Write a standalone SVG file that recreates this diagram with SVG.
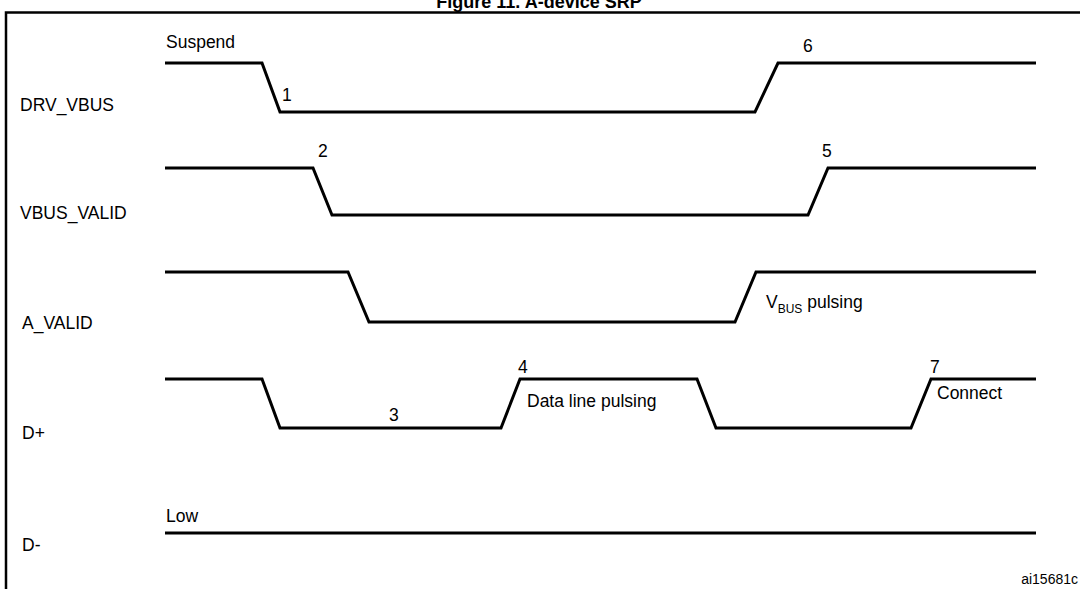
<svg xmlns="http://www.w3.org/2000/svg" width="1080" height="589" viewBox="0 0 1080 589">
<style>
text{font-family:"Liberation Sans",Arial,sans-serif;font-size:17.5px;fill:#000}
.w{fill:none;stroke:#000;stroke-width:3;stroke-linejoin:miter}
</style>
<rect width="1080" height="589" fill="#fff"/>
<text x="539" y="8" text-anchor="middle" style="font-weight:bold;font-size:18px">Figure 11. A-device SRP</text>
<rect x="6" y="12.5" width="1090" height="600" fill="none" stroke="#000" stroke-width="2.5"/>
<g id="labels">
<text x="20" y="111">DRV_VBUS</text>
<text x="20" y="219">VBUS_VALID</text>
<text x="22" y="329">A_VALID</text>
<text x="22" y="439">D+</text>
<text x="22" y="551">D-</text>
</g>
<g id="connectors">
<path id="drv_vbus" class="w" d="M165 63H262L280 112H755L778 63H1036"/>
<path id="vbus_valid" class="w" d="M165 168H313L332 215H808L828 168H1036"/>
<path id="a_valid" class="w" d="M165 272H348L369 322H735L756 272H1036"/>
<path id="dplus" class="w" d="M165 379H262L280 428H501L520 379H697L716 428H911L931 379H1036"/>
<path id="dminus" class="w" d="M165 533H1036"/>
</g>
<g id="annotations">
<text x="166" y="48">Suspend</text>
<text x="282" y="101">1</text>
<text x="803" y="52">6</text>
<text x="318" y="157">2</text>
<text x="822" y="157">5</text>
<text x="766" y="308">V<tspan font-size="12" dy="5">BUS</tspan><tspan dy="-5"> pulsing</tspan></text>
<text x="389" y="421">3</text>
<text x="518" y="373">4</text>
<text x="527" y="407">Data line pulsing</text>
<text x="930" y="373">7</text>
<text x="937" y="399">Connect</text>
<text x="166" y="522">Low</text>
<text x="1078" y="584" text-anchor="end" style="font-size:14px">ai15681c</text>
</g>
</svg>
